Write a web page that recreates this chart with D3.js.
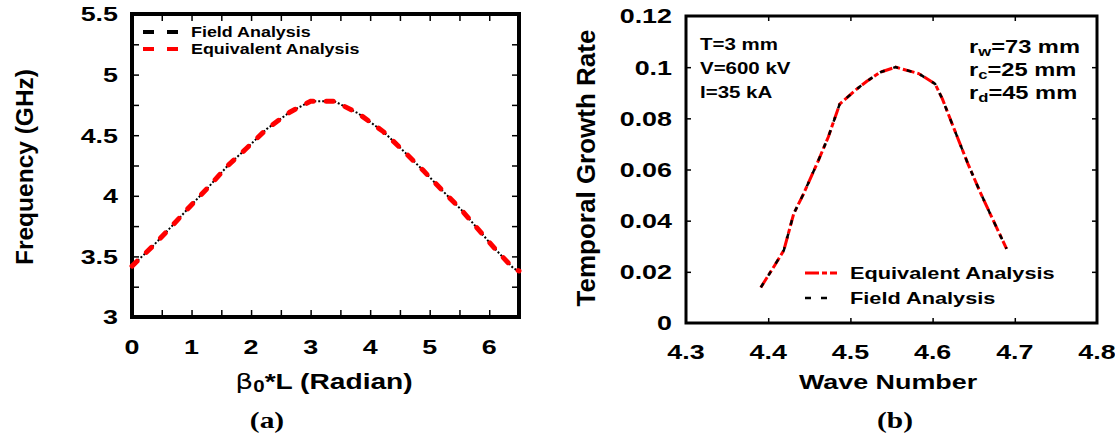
<!DOCTYPE html>
<html>
<head>
<meta charset="utf-8">
<script src="https://cdn.jsdelivr.net/npm/d3@7"></script>
<style>
  html, body { margin: 0; padding: 0; background: #fff; }
  svg { display: block; }
  text { font-family: "Liberation Sans", Arial, sans-serif; font-weight: bold; fill: #000; }
  .serif { font-family: "Liberation Serif", "Times New Roman", serif; }
</style>
</head>
<body>
<svg id="fig" width="1115" height="438"></svg>
<script>
// ---- (a) dispersion: frequency vs phase shift per period ----
const betaL = [0, 0.36, 0.67, 0.97, 1.30, 1.61, 1.92, 2.26, 2.65, 3.00, 3.40, 3.80, 4.22, 4.56, 4.89, 5.20, 5.54, 5.82, 6.12, 6.41, 6.50];
const freqField = [3.42, 3.59, 3.75, 3.91, 4.08, 4.25, 4.39, 4.55, 4.69, 4.78, 4.78, 4.68, 4.53, 4.37, 4.21, 4.05, 3.88, 3.72, 3.55, 3.40, 3.38];
const freqEquiv = [3.42, 3.59, 3.75, 3.91, 4.08, 4.25, 4.39, 4.55, 4.69, 4.78, 4.78, 4.68, 4.53, 4.37, 4.21, 4.05, 3.88, 3.72, 3.55, 3.40, 3.38];
const aXTicks = [0, 1, 2, 3, 4, 5, 6];
const aYTicks = [3, 3.5, 4, 4.5, 5, 5.5];

// ---- (b) temporal growth rate vs wave number ----
const waveNum = [4.391, 4.408, 4.419, 4.431, 4.443, 4.461, 4.473, 4.487, 4.508, 4.520, 4.536, 4.555, 4.583, 4.603, 4.612, 4.627, 4.643, 4.657, 4.670, 4.690];
const growthEquiv = [0.0139, 0.0226, 0.0284, 0.0427, 0.0505, 0.0635, 0.0726, 0.0856, 0.0915, 0.0945, 0.0980, 0.1000, 0.0975, 0.0935, 0.0875, 0.0752, 0.0622, 0.0518, 0.0427, 0.0290];
const growthField = [0.0139, 0.0226, 0.0284, 0.0427, 0.0505, 0.0635, 0.0726, 0.0856, 0.0915, 0.0945, 0.0980, 0.1000, 0.0975, 0.0935, 0.0875, 0.0752, 0.0622, 0.0518, 0.0427, 0.0290];
const bXTicks = [4.3, 4.4, 4.5, 4.6, 4.7, 4.8];
const bYTicks = [0, 0.02, 0.04, 0.06, 0.08, 0.1, 0.12];

const S = 1.28;   // horizontal widening of the bold lettering
const svg = d3.select("#fig");

// horizontal text with widened glyphs anchored at (x, y)
function label(g, x, y, str, size, anchor = "start") {
  return g.append("text")
    .attr("transform", `translate(${x},${y}) scale(${S},1)`)
    .attr("text-anchor", anchor).attr("dominant-baseline", "central")
    .attr("font-size", size).text(str);
}
// vertical axis title
function vlabel(g, x, y, str, size) {
  return g.append("text")
    .attr("transform", `translate(${x},${y}) rotate(-90)`)
    .attr("text-anchor", "middle").attr("dominant-baseline", "central")
    .attr("font-size", size).text(str);
}

// frame with inward ticks on all four sides
function frame(g, x, y, xt, yt, sw, tl) {
  const [x0, x1] = x.range(), [y0, y1] = y.range();
  g.append("rect").attr("x", x0).attr("y", y1).attr("width", x1 - x0).attr("height", y0 - y1)
    .attr("fill", "none").attr("stroke", "#000").attr("stroke-width", sw);
  const strip = s => s.select(".domain").remove();
  g.append("g").attr("transform", `translate(0,${y0})`).call(d3.axisBottom(x).tickValues(xt).tickSize(-tl).tickFormat("")).call(strip);
  g.append("g").attr("transform", `translate(0,${y1})`).call(d3.axisTop(x).tickValues(xt).tickSize(-tl).tickFormat("")).call(strip);
  g.append("g").attr("transform", `translate(${x0},0)`).call(d3.axisLeft(y).tickValues(yt).tickSize(-tl).tickFormat("")).call(strip);
  g.append("g").attr("transform", `translate(${x1},0)`).call(d3.axisRight(y).tickValues(yt).tickSize(-tl).tickFormat("")).call(strip);
  g.selectAll(".tick line").attr("stroke", "#000").attr("stroke-width", 1.5);
}

// ================= panel (a) =================
const ga = svg.append("g");
const xa = d3.scaleLinear().domain([0, 6.5]).range([132, 519]);
const ya = d3.scaleLinear().domain([3, 5.5]).range([317, 14]);

frame(ga, xa, ya, d3.range(0, 6.51, 0.5), d3.range(3, 5.51, 0.25), 4, 7);

const lineA = ys => d3.line().x((d, i) => xa(betaL[i])).y((d, i) => ya(ys[i]))(ys);
ga.append("path").attr("d", lineA(freqField)).attr("fill", "none")
  .attr("stroke", "#000").attr("stroke-width", 2).attr("stroke-dasharray", "2,2");
ga.append("path").attr("d", lineA(freqEquiv)).attr("fill", "none")
  .attr("stroke", "#f00").attr("stroke-width", 5).attr("stroke-linecap", "round")
  .attr("stroke-dasharray", "7,13");

aXTicks.forEach(d => label(ga, xa(d), 347, d, 21, "middle"));
aYTicks.forEach(d => label(ga, 118, ya(d), d, 21, "end"));

const ta = label(ga, 324, 381, "", 22, "middle");
ta.append("tspan").attr("font-family", "DejaVu Sans").attr("font-weight", "normal").text("β");
ta.append("tspan").attr("font-size", 16).attr("dy", 5).text("0");
ta.append("tspan").attr("dy", -5).text("*L (Radian)");
vlabel(ga, 24, 167, "Frequency (GHz)", 24.5);
label(ga, 267, 420, "(a)", 23, "middle").attr("class", "serif");

const legA = [
  { label: "Field Analysis", color: "#000" },
  { label: "Equivalent Analysis", color: "#f00" }
];
legA.forEach((d, i) => {
  const yy = 32 + i * 17;
  ga.append("line").attr("x1", 143).attr("x2", 178).attr("y1", yy).attr("y2", yy)
    .attr("stroke", d.color).attr("stroke-width", 4).attr("stroke-dasharray", "11,13");
  label(ga, 191, yy, d.label, 14);
});

// ================= panel (b) =================
const gb = svg.append("g");
const xb = d3.scaleLinear().domain([4.3, 4.8]).range([686, 1097]);
const yb = d3.scaleLinear().domain([0, 0.12]).range([323, 16]);

frame(gb, xb, yb, bXTicks.slice(1, -1), bYTicks.slice(1, -1), 3, 5);

const lineB = ys => d3.line().x((d, i) => xb(waveNum[i])).y((d, i) => yb(ys[i]))(ys);
gb.append("path").attr("d", lineB(growthEquiv)).attr("fill", "none")
  .attr("stroke", "#f00").attr("stroke-width", 3).attr("stroke-dasharray", "12,3,5,3");
gb.append("path").attr("d", lineB(growthField)).attr("fill", "none")
  .attr("stroke", "#000").attr("stroke-width", 2.5).attr("stroke-dasharray", "5,9");

bXTicks.forEach(d => label(gb, xb(d), 352, d, 21, "middle"));
bYTicks.forEach(d => label(gb, 672, yb(d), d, 21, "end"));

label(gb, 888, 382, "Wave Number", 21, "middle");
vlabel(gb, 586, 168, "Temporal Growth Rate", 26);
label(gb, 895, 420, "(b)", 23, "middle").attr("class", "serif");

const paramsL = ["T=3 mm", "V=600 kV", "I=35 kA"];
paramsL.forEach((t, i) => label(gb, 700, 44 + i * 24, t, 16));
const paramsR = [["r", "w", "=73 mm"], ["r", "c", "=25 mm"], ["r", "d", "=45 mm"]];
paramsR.forEach((p, i) => {
  const t = label(gb, 969, 47 + i * 23, "", 18.5);
  t.append("tspan").text(p[0]);
  t.append("tspan").attr("font-size", 13).attr("dy", 4).text(p[1]);
  t.append("tspan").attr("dy", -4).text(p[2]);
});

const legB = [
  { label: "Equivalent Analysis", color: "#f00", dash: "14,3,5,3", w: 3, x2: 837 },
  { label: "Field Analysis", color: "#000", dash: "6,10", w: 2.5, x2: 827 }
];
legB.forEach((d, i) => {
  const yy = 273 + i * 25;
  gb.append("line").attr("x1", 805).attr("x2", d.x2).attr("y1", yy).attr("y2", yy)
    .attr("stroke", d.color).attr("stroke-width", d.w).attr("stroke-dasharray", d.dash);
  label(gb, 850, yy, d.label, 17);
});
</script>
</body>
</html>
